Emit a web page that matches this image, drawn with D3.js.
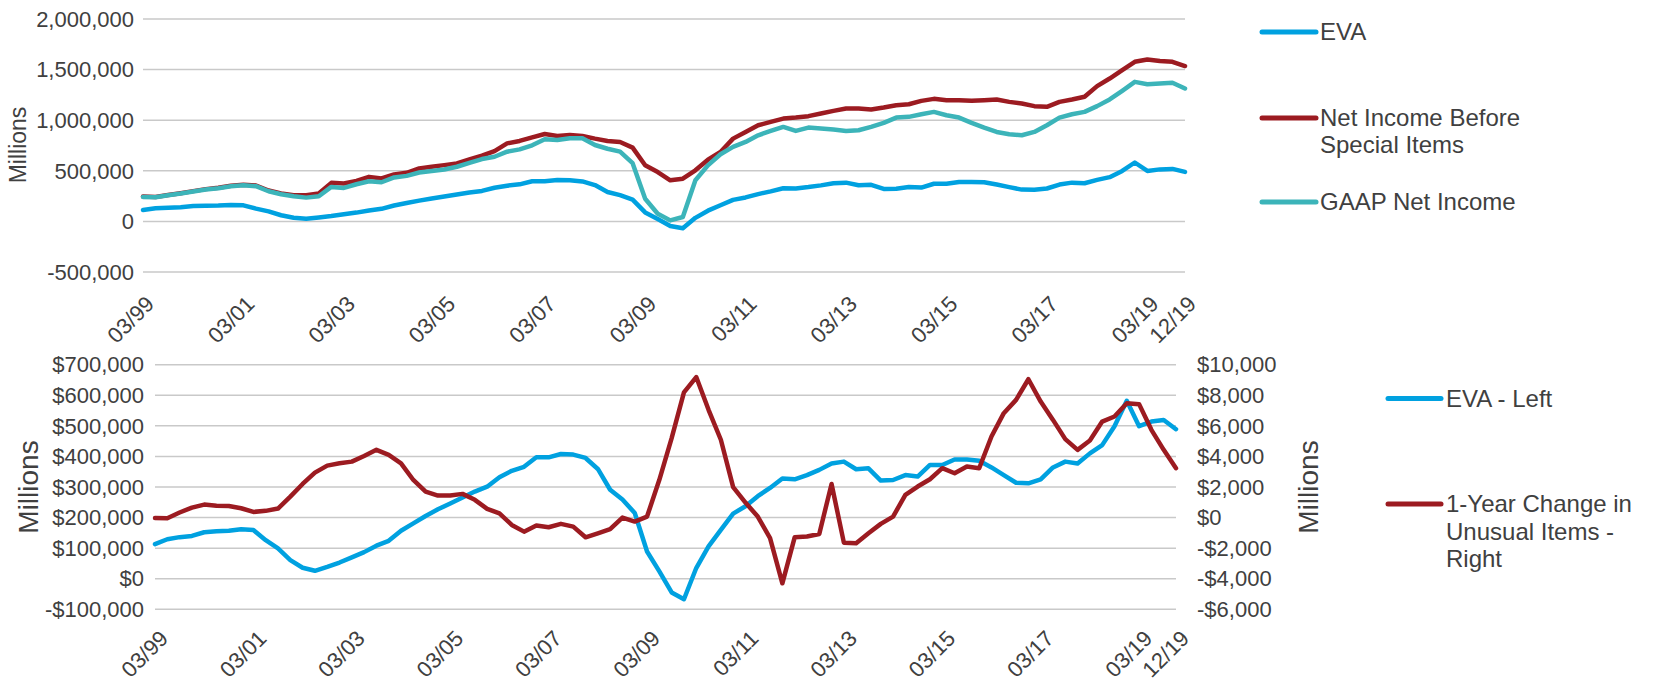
<!DOCTYPE html>
<html><head><meta charset="utf-8">
<script src="https://cdn.jsdelivr.net/npm/d3@7/dist/d3.min.js"></script>
<style>
body{margin:0;background:#fff}
text{font-family:"Liberation Sans",Arial,sans-serif;fill:#404040}
</style>
</head><body>
<svg id="c" width="1653" height="681"></svg>
<script>
// ---------- DATA ----------
const years = d3.range(1999, 2020);
const months = ["03","06","09","12"];
const quarters = [];
years.forEach(y => months.forEach(m => quarters.push(m + "/" + String(y).slice(2))));

const tickLabels = ["03/99","03/01","03/03","03/05","03/07","03/09","03/11","03/13","03/15","03/17","03/19","12/19"];

// values, in thousands of millions-axis units (x1000 below)
const eva = [113,129,136,140,152,155,157,162,159,126,99,61,36,26,39,53,70,87,108,124,
  157,181,205,227,246,266,285,301,332,353,366,397,397,408,406,395,359,291,259,215,
  89,24,-45,-67,35,106,160,213,237,270,297,328,325,339,356,377,383,358,361,321,
  323,339,334,372,372,390,390,386,364,339,314,312,325,364,383,377,410,437,499,582,
  499,514,519,489];

const nibsi = [245,241,261,279,299,319,332,352,362,355,305,276,258,258,275,381,374,400,440,424,
  464,480,523,540,556,573,612,649,695,771,795,831,864,844,854,844,818,795,785,729,
  555,488,406,422,505,610,686,818,884,950,983,1016,1026,1040,1066,1092,1115,1115,1106,1125,
  1148,1158,1191,1211,1198,1198,1191,1198,1204,1181,1165,1139,1132,1181,1204,1231,1337,1412,1495,1577,
  1600,1584,1577,1535];

const gaap = [242,238,258,275,295,315,328,348,358,348,298,268,248,235,248,341,331,367,397,387,
  434,450,483,497,513,540,579,616,639,689,712,752,811,805,821,821,755,718,689,575,
  224,76,10,43,406,554,663,736,785,851,894,934,894,927,917,907,894,901,934,974,
  1026,1033,1059,1082,1049,1026,974,927,884,861,851,884,950,1026,1059,1082,1139,1205,1290,1379,
  1356,1363,1370,1313];

const unusual = [-30,-40,330,650,850,780,760,610,370,440,590,1370,2200,2940,3400,3550,3660,4030,4430,4100,
  3550,2460,1700,1440,1440,1550,1160,570,280,-480,-920,-520,-630,-410,-590,-1290,-1030,-760,0,-260,
  65,2470,5200,8190,9190,7050,5090,1990,980,65,-1350,-4300,-1290,-1240,-1070,2200,-1640,-1680,-1030,-410,
  65,1480,2030,2510,3230,2900,3340,3230,5300,6830,7700,9050,7590,6390,5130,4430,5040,6280,6610,7480,
  7420,5740,4430,3230];

const topTicks = [-500000,0,500000,1000000,1500000,2000000];
const botLeftTicks = [-100000,0,100000,200000,300000,400000,500000,600000,700000];
const botRightTicks = [-6000,-4000,-2000,0,2000,4000,6000,8000,10000];

// ---------- STYLE ----------
const C_EVA = "#00A1E0", C_RED = "#9C1B21", C_TEAL = "#3CB4B9", C_GRID = "#C9C9C9";
const TICK_FS = "22px", LEG_FS = "24px", LW = 4.5;
const svg = d3.select("#c");
const fmtAbs = d3.format(",");
const fmt = d => (d < 0 ? "-" : "") + fmtAbs(Math.abs(d));
const dollar = d => (d < 0 ? "-$" : "$") + fmtAbs(Math.abs(d));

// ---------- TOP CHART ----------
const xT = d3.scalePoint().domain(quarters).range([143, 1185]);
const yT = d3.scaleLinear().domain([-500000, 2000000]).range([272, 19]);
const gT = svg.append("g");

gT.selectAll("line.grid").data(topTicks).join("line")
  .attr("x1", 143).attr("x2", 1185)
  .attr("y1", d => yT(d)).attr("y2", d => yT(d))
  .attr("stroke", C_GRID).attr("stroke-width", 1.5);

gT.selectAll("text.yl").data(topTicks).join("text")
  .attr("x", 134).attr("y", d => yT(d)).attr("dy", "0.35em")
  .attr("text-anchor", "end").style("font-size", TICK_FS).text(fmt);

gT.selectAll("text.xl").data(tickLabels).join("text")
  .attr("text-anchor", "end").attr("dy", "0.35em").style("font-size", TICK_FS)
  .attr("transform", d => `translate(${xT(d) + 7},${272 + 28}) rotate(-45)`)
  .text(d => d);

gT.append("text").attr("transform", "translate(26,145) rotate(-90)")
  .attr("text-anchor", "middle").style("font-size", "23px").text("Millions");

const lineT = arr => d3.line().x((d, i) => xT(quarters[i])).y(d => yT(d * 1000))(arr);
[[eva, C_EVA], [nibsi, C_RED], [gaap, C_TEAL]].forEach(([arr, c]) => {
  gT.append("path").attr("d", lineT(arr)).attr("fill", "none")
    .attr("stroke", c).attr("stroke-width", LW).attr("stroke-linejoin", "round").attr("stroke-linecap", "round");
});

// top legend
const legT = [
  {c: C_EVA, y: 32, lines: ["EVA"]},
  {c: C_RED, y: 118, lines: ["Net Income Before", "Special Items"]},
  {c: C_TEAL, y: 202, lines: ["GAAP Net Income"]}
];
legT.forEach(l => {
  gT.append("line").attr("x1", 1262).attr("x2", 1316).attr("y1", l.y).attr("y2", l.y)
    .attr("stroke", l.c).attr("stroke-width", 5).attr("stroke-linecap", "round");
  l.lines.forEach((t, k) => gT.append("text").attr("x", 1320).attr("y", l.y + k * 27)
    .attr("dy", "0.35em").style("font-size", LEG_FS).text(t));
});

// ---------- BOTTOM CHART ----------
const xB = d3.scalePoint().domain(quarters).range([155, 1176]);
const yL = d3.scaleLinear().domain([-100000, 700000]).range([609.3, 364.7]);
const yR = d3.scaleLinear().domain([-6000, 10000]).range([609.3, 364.7]);
const gB = svg.append("g");

gB.selectAll("line.grid").data(botLeftTicks).join("line")
  .attr("x1", 155).attr("x2", 1176)
  .attr("y1", d => yL(d)).attr("y2", d => yL(d))
  .attr("stroke", C_GRID).attr("stroke-width", 1.5);

gB.selectAll("text.yl").data(botLeftTicks).join("text")
  .attr("x", 144).attr("y", d => yL(d)).attr("dy", "0.35em")
  .attr("text-anchor", "end").style("font-size", TICK_FS).text(dollar);

gB.selectAll("text.yr").data(botRightTicks).join("text")
  .attr("x", 1197).attr("y", d => yR(d)).attr("dy", "0.35em")
  .attr("text-anchor", "start").style("font-size", TICK_FS).text(dollar);

gB.selectAll("text.xl").data(tickLabels).join("text")
  .attr("text-anchor", "end").attr("dy", "0.35em").style("font-size", TICK_FS)
  .attr("transform", d => `translate(${xB(d) + 9},${609.3 + 25}) rotate(-45)`)
  .text(d => d);

gB.append("text").attr("transform", "translate(38,487) rotate(-90)")
  .attr("text-anchor", "middle").style("font-size", "28px").text("Millions");
gB.append("text").attr("transform", "translate(1318,487) rotate(-90)")
  .attr("text-anchor", "middle").style("font-size", "28px").text("Millions");

gB.append("path").attr("d", d3.line().x((d, i) => xB(quarters[i])).y(d => yL(d * 1000))(eva))
  .attr("fill", "none").attr("stroke", C_EVA).attr("stroke-width", LW)
  .attr("stroke-linejoin", "round").attr("stroke-linecap", "round");
gB.append("path").attr("d", d3.line().x((d, i) => xB(quarters[i])).y(d => yR(d))(unusual))
  .attr("fill", "none").attr("stroke", C_RED).attr("stroke-width", LW)
  .attr("stroke-linejoin", "round").attr("stroke-linecap", "round");

const legB = [
  {c: C_EVA, y: 398.5, lines: ["EVA - Left"]},
  {c: C_RED, y: 504, lines: ["1-Year Change in", "Unusual Items -", "Right"]}
];
legB.forEach(l => {
  gB.append("line").attr("x1", 1388).attr("x2", 1441).attr("y1", l.y).attr("y2", l.y)
    .attr("stroke", l.c).attr("stroke-width", 5).attr("stroke-linecap", "round");
  l.lines.forEach((t, k) => gB.append("text").attr("x", 1446).attr("y", l.y + k * 27.3)
    .attr("dy", "0.35em").style("font-size", LEG_FS).text(t));
});
</script>
</body></html>
